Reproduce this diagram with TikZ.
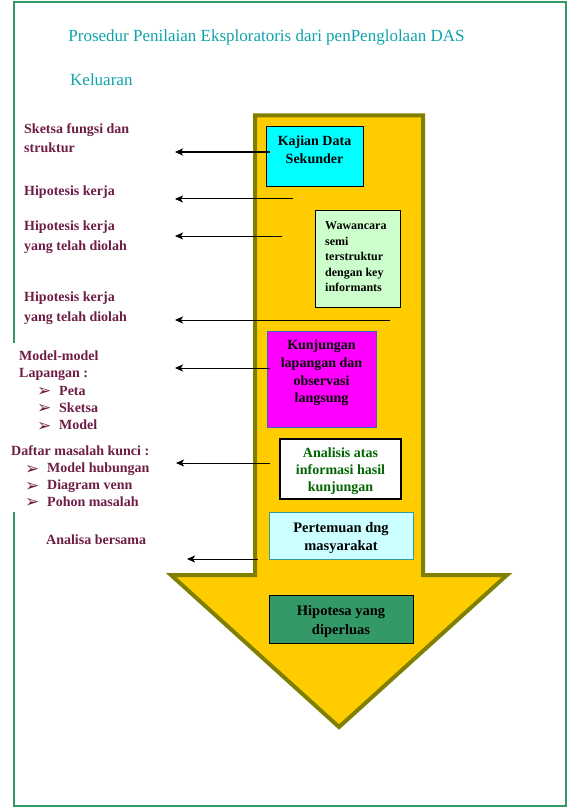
\documentclass[tikz,border=0pt]{standalone}
\usepackage{fontspec}
\setmainfont{Liberation Serif}
\newfontfamily\dejavu{DejaVu Sans}
\usetikzlibrary{arrows.meta}
\definecolor{myolive}{HTML}{808000}
\definecolor{arrowfill}{HTML}{FFCC00}
\definecolor{framegreen}{HTML}{339966}
\definecolor{maroontxt}{HTML}{6E1E46}
\definecolor{titlecol}{HTML}{0FA3AB}
\definecolor{kajianfill}{HTML}{00FFFF}
\definecolor{wawfill}{HTML}{CCFFCC}
\definecolor{kunjfill}{HTML}{FF00FF}
\definecolor{kunjdraw}{HTML}{3366CC}
\definecolor{analtext}{HTML}{006600}
\definecolor{pertfill}{HTML}{CCFFFF}
\definecolor{pertdraw}{HTML}{339999}
\definecolor{hipfill}{HTML}{339966}
\newcommand{\bul}{\makebox[22pt][l]{\dejavu\fontsize{17}{17}\selectfont\raisebox{-1.5pt}{➢}}}
\begin{document}
\begin{tikzpicture}[x=1pt,y=-1pt,
  lefttxt/.style={anchor=west,align=left,text=maroontxt,inner sep=0pt,
    font=\fontsize{14}{19.5}\selectfont\bfseries},
  listtxt/.style={anchor=west,align=left,text=maroontxt,inner sep=0pt,
    font=\fontsize{14}{17.2}\selectfont\bfseries},
  titletxt/.style={text=titlecol,inner sep=0pt,font=\fontsize{17}{20}\selectfont},
  boxtxt/.style={align=center,inner sep=0pt,font=\fontsize{14}{18}\selectfont\bfseries},
  boxshape/.style={draw=black,line width=1pt,inner sep=0pt},
  conn/.style={draw=black,line width=1pt,-{Stealth[length=8pt,width=7pt,inset=2pt]}}]
\useasboundingbox (0,0) rectangle (569,810);
% frame
\draw[framegreen,line width=1.5pt] (14,343) -- (14,2) -- (566,2) -- (566,806) -- (14,806) -- (14,512);
% big arrow
\draw[myolive,line width=4pt,fill=arrowfill,line join=miter]
  (255,115.5) -- (423,115.5) -- (423,575) -- (507,575) -- (339,727) -- (171,575) -- (255,575) -- cycle;
% titles
\node[titletxt] (title) at (266.5,37) {Prosedur Penilaian Eksploratoris dari penPenglolaan DAS};
\node[titletxt,anchor=west] (kel) at (70,80) {Keluaran};
% boxes
\node[boxshape,fill=kajianfill,minimum width=97pt,minimum height=60pt] (kajian) at (314.5,157) {};
\node[boxtxt,anchor=north] (kajiantxt) at (314.5,135.5) {Kajian Data\\Sekunder};
\node[boxshape,fill=wawfill,minimum width=85pt,minimum height=96pt] (waw) at (357.5,259) {};
\node[anchor=west,align=left,inner sep=0pt,font=\fontsize{12}{15.5}\selectfont\bfseries] (wawtxt) at (325,257)
  {Wawancara\\semi\\terstruktur\\dengan key\\informants};
\node[draw=kunjdraw,line width=0.8pt,fill=kunjfill,minimum width=109pt,minimum height=96pt,inner sep=0pt] (kunj) at (321.5,379) {};
\node[boxtxt,font=\fontsize{14}{17.6}\selectfont\bfseries] (kunjtxt) at (321.5,373) {Kunjungan\\lapangan dan\\observasi\\langsung};
\node[boxshape,line width=1.3pt,fill=white,minimum width=121pt,minimum height=60pt] (anal) at (340.5,469) {};
\node[align=center,inner sep=0pt,text=analtext,font=\fontsize{14}{17}\selectfont\bfseries] (analtxt) at (340.5,471) {Analisis atas\\informasi hasil\\kunjungan};
\node[draw=pertdraw,line width=1pt,fill=pertfill,minimum width=144pt,minimum height=47pt,inner sep=0pt] (pert) at (341,536) {};
\node[align=center,inner sep=0pt,font=\fontsize{14.5}{18}\selectfont\bfseries] (perttxt) at (341,538) {Pertemuan dng\\masyarakat};
\node[boxshape,fill=hipfill,minimum width=144pt,minimum height=48pt] (hip) at (341,619) {};
\node[align=center,inner sep=0pt,font=\fontsize{14.5}{19}\selectfont\bfseries] (hiptxt) at (341,621.5) {Hipotesa yang\\diperluas};
% connector ends
\coordinate (s1) at (270,152); \coordinate (e1) at (175,152);
\coordinate (s2) at (293,199); \coordinate (e2) at (175,199);
\coordinate (s3) at (282,236); \coordinate (e3) at (175,236);
\coordinate (s4) at (390,320); \coordinate (e4) at (175,320);
\coordinate (s5) at (270,368); \coordinate (e5) at (175,368);
\coordinate (s6) at (270,463); \coordinate (e6) at (176,463);
\coordinate (s7) at (258,559); \coordinate (e7) at (187,559);
\draw[conn,line width=2pt] (s1) -- (e1);
\draw[conn] (s2) -- (e2);
\draw[conn] (s3) -- (e3);
\draw[conn] (s4) -- (e4);
\draw[conn] (s5) -- (e5);
\draw[conn] (s6) -- (e6);
\draw[conn] (s7) -- (e7);
% left texts
\node[lefttxt] (sk) at (24,138) {Sketsa fungsi dan\\struktur};
\node[lefttxt] (hk1) at (24,192) {Hipotesis kerja};
\node[lefttxt] (hk2) at (24,237) {Hipotesis kerja\\yang telah diolah};
\node[lefttxt] (hk3) at (24,308) {Hipotesis kerja\\yang telah diolah};
\node[listtxt] (mm) at (19,391) {Model-model\\Lapangan :\\\hspace{18pt}\bul Peta\\\hspace{18pt}\bul Sketsa\\\hspace{18pt}\bul Model};
\node[listtxt,font=\fontsize{14}{16.8}\selectfont\bfseries] (dm) at (11,477) {Daftar masalah kunci :\\\hspace{14pt}\bul Model hubungan\\\hspace{14pt}\bul Diagram venn\\\hspace{14pt}\bul Pohon masalah};
\node[lefttxt] (ab) at (46,540) {Analisa bersama};
\end{tikzpicture}
\end{document}
